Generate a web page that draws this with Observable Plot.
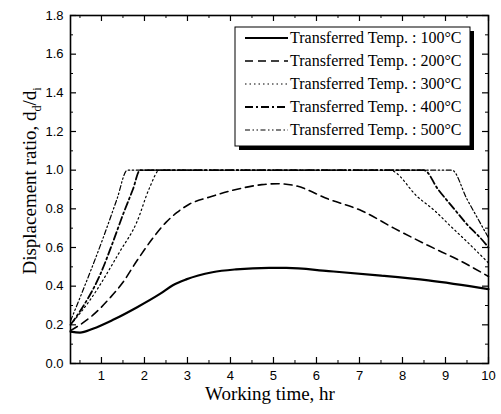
<!DOCTYPE html>
<html>
<head>
<meta charset="utf-8">
<script src="https://cdn.jsdelivr.net/npm/d3@7"></script>
<script src="https://cdn.jsdelivr.net/npm/@observablehq/plot@0.6"></script>
<style>
  html, body { margin: 0; padding: 0; background: #fff; }
  #chart svg { display: block; }
</style>
</head>
<body>
<div id="chart"></div>
<script>
// ---- data ----
const seriesNames = ["Transferred Temp. : 100°C", "Transferred Temp. : 200°C", "Transferred Temp. : 300°C", "Transferred Temp. : 400°C", "Transferred Temp. : 500°C"];

const x100 = [0.28, 0.5, 0.8, 1.27, 1.82, 2.36, 2.66, 2.97, 3.58, 4.13, 4.9, 5.3, 6.28, 7.5, 8.6, 10];
const y100 = [0.165, 0.16, 0.18, 0.226, 0.29, 0.36, 0.405, 0.435, 0.472, 0.487, 0.495, 0.495, 0.478, 0.455, 0.43, 0.385];

const x200 = [0.28, 0.5, 0.8, 1.2, 1.5, 1.82, 2.2, 2.5, 2.75, 3.05, 3.5, 4.13, 4.73, 5.1, 5.5, 6.28, 7.05, 7.8, 8.6, 9.35, 10];
const y200 = [0.17, 0.2, 0.25, 0.34, 0.42, 0.53, 0.65, 0.73, 0.78, 0.825, 0.86, 0.9, 0.925, 0.93, 0.92, 0.85, 0.79, 0.7, 0.61, 0.53, 0.45];

const x300 = [0.28, 0.74, 1.43, 1.82, 2.12, 2.35, 3, 5, 7, 7.7, 8.36, 8.75, 9.12, 9.5, 10];
const y300 = [0.2, 0.33, 0.58, 0.73, 0.91, 1.0, 1.0, 1.0, 1.0, 1.0, 0.86, 0.79, 0.71, 0.63, 0.52];

const x400 = [0.28, 0.5, 0.97, 1.27, 1.5, 1.73, 1.9, 8.5, 8.83, 9.2, 9.5, 9.85, 10];
const y400 = [0.2, 0.27, 0.46, 0.63, 0.77, 0.9, 1.0, 1.0, 0.9, 0.8, 0.72, 0.64, 0.6];

const x500 = [0.28, 0.5, 1.04, 1.36, 1.6, 9.15, 9.5, 9.75, 10];
const y500 = [0.22, 0.34, 0.65, 0.85, 1.0, 1.0, 0.85, 0.75, 0.65];

const xMajor = [1, 2, 3, 4, 5, 6, 7, 8, 9, 10];
const xMinor = [0.5, 1.5, 2.5, 3.5, 4.5, 5.5, 6.5, 7.5, 8.5, 9.5];
const yMajor = [0, 0.2, 0.4, 0.6, 0.8, 1.0, 1.2, 1.4, 1.6, 1.8];
const yMinor = [0.1, 0.3, 0.5, 0.7, 0.9, 1.1, 1.3, 1.5, 1.7];

// ---- build tables ----
const toRows = (xs, ys) => xs.map((x, i) => ({x, y: ys[i]}));
const rows = [toRows(x100, y100), toRows(x200, y200), toRows(x300, y300), toRows(x400, y400), toRows(x500, y500)];

const styles = [
  {strokeWidth: 2.2, dash: null},
  {strokeWidth: 1.6, dash: "8,5"},
  {strokeWidth: 1.2, dash: "1.5,3"},
  {strokeWidth: 1.8, dash: "8,3,2,3"},
  {strokeWidth: 1.2, dash: "5,2.5,1.5,2.5,1.5,2.5"}
];

const W = 501, H = 414;
const mL = 70, mR = 13, mT = 15, mB = 51;
const innerW = W - mL - mR, innerH = H - mT - mB;
const majLen = 6, minLen = 3;

const plot = Plot.plot({
  width: W,
  height: H,
  marginLeft: mL,
  marginRight: mR,
  marginTop: mT,
  marginBottom: mB,
  style: {fontFamily: "Liberation Sans, Arial, sans-serif", fontSize: "13px", color: "#000", background: "#fff"},
  x: {domain: [0.28, 10]},
  y: {domain: [0, 1.8]},
  marks: [
    Plot.axisX(xMajor, {tickSize: 0, tickPadding: 7, label: null, fontSize: 13}),
    Plot.axisY(yMajor, {tickSize: 0, tickPadding: 7, label: null, tickFormat: d3.format(".1f"), fontSize: 13}),
    // inward ticks, bottom/top
    Plot.tickX(xMajor, {x: d => d, insetTop: innerH - majLen, stroke: "#000", strokeWidth: 1.2}),
    Plot.tickX(xMinor, {x: d => d, insetTop: innerH - minLen, stroke: "#000", strokeWidth: 1}),
    Plot.tickX(xMajor, {x: d => d, insetBottom: innerH - majLen, stroke: "#000", strokeWidth: 1.2}),
    Plot.tickX(xMinor, {x: d => d, insetBottom: innerH - minLen, stroke: "#000", strokeWidth: 1}),
    // inward ticks, left/right
    Plot.tickY(yMajor, {y: d => d, insetRight: innerW - majLen, stroke: "#000", strokeWidth: 1.2}),
    Plot.tickY(yMinor, {y: d => d, insetRight: innerW - minLen, stroke: "#000", strokeWidth: 1}),
    Plot.tickY(yMajor, {y: d => d, insetLeft: innerW - majLen, stroke: "#000", strokeWidth: 1.2}),
    Plot.tickY(yMinor, {y: d => d, insetLeft: innerW - minLen, stroke: "#000", strokeWidth: 1}),
    ...rows.map((r, i) => Plot.line(r, {
      x: "x", y: "y", stroke: "#000",
      strokeWidth: styles[i].strokeWidth,
      strokeDasharray: styles[i].dash,
      curve: "monotone-x"
    })),
    Plot.frame({stroke: "#000", strokeWidth: 1.6})
  ]
});

document.getElementById("chart").appendChild(plot);

// ---- titles and legend ----
const svg = d3.select(plot);
const serif = "Liberation Serif, Times New Roman, serif";

svg.append("text")
  .attr("x", 270).attr("y", 400)
  .attr("text-anchor", "middle")
  .attr("font-family", serif).attr("font-size", 19)
  .attr("fill", "#000")
  .text("Working time, hr");

const yl = svg.append("text")
  .attr("transform", `translate(36,${mT + innerH / 2 - 8}) rotate(-90)`)
  .attr("text-anchor", "middle")
  .attr("font-family", serif).attr("font-size", 19)
  .attr("fill", "#000");
yl.append("tspan").text("Displacement ratio, d");
yl.append("tspan").attr("font-size", 12).attr("dy", 5).text("d");
yl.append("tspan").attr("dy", -5).text("/d");
yl.append("tspan").attr("font-size", 12).attr("dy", 5).text("i");

const lg = svg.append("g");
const bx = 235, by = 27, bw = 235, bh = 119;
lg.append("rect").attr("x", bx + 4).attr("y", by + 4).attr("width", bw).attr("height", bh).attr("fill", "#000");
lg.append("rect").attr("x", bx).attr("y", by).attr("width", bw).attr("height", bh)
  .attr("fill", "#fff").attr("stroke", "#000").attr("stroke-width", 1);
const rowY = [38, 61, 84, 107, 130];
seriesNames.forEach((name, i) => {
  lg.append("line")
    .attr("x1", 245).attr("x2", 288)
    .attr("y1", rowY[i]).attr("y2", rowY[i])
    .attr("stroke", "#000")
    .attr("stroke-width", styles[i].strokeWidth)
    .attr("stroke-dasharray", styles[i].dash);
  lg.append("text")
    .attr("x", 290).attr("y", rowY[i] + 5)
    .attr("text-anchor", "start")
    .attr("font-family", serif).attr("font-size", 16)
    .attr("fill", "#000")
    .text(name);
});
</script>
</body>
</html>
